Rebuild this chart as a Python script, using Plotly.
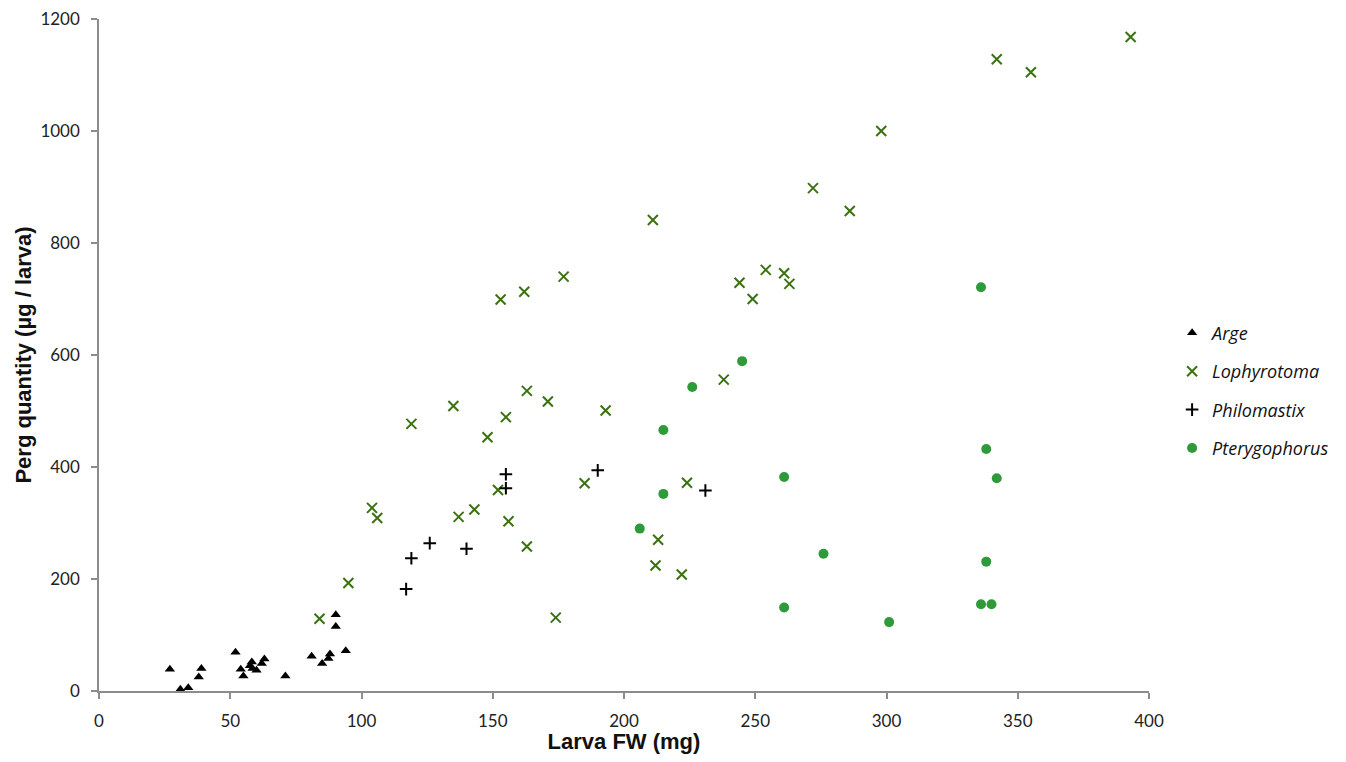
import plotly.graph_objects as go

arge_x = [27, 31, 34, 38, 39, 52, 54, 55, 57.5, 58.2, 58.5, 60, 62, 63, 71, 81, 85, 87.4, 88, 90.2, 90.2, 94]
arge_y = [39, 3, 6, 25, 40, 69, 39, 27, 45, 52, 40, 37, 49, 57, 27, 62, 49, 58, 66, 136, 115, 72]

loph_x = [84, 95, 104, 106, 119, 135, 137, 143, 148, 152, 153, 155, 156, 162, 163, 163, 171, 174, 177,
          185, 193, 211, 213, 212, 222, 224, 238, 244, 249, 254, 261, 263, 272, 286, 298, 342, 355, 393]
loph_y = [129, 193, 327, 309, 477, 509, 311, 324, 453, 359, 699, 489, 303, 713, 536, 258, 517, 131, 740,
          371, 501, 841, 270, 224, 208, 372, 556, 729, 700, 752, 746, 727, 898, 857, 1000, 1128, 1105, 1168]

phil_x = [117, 119, 126, 140, 155, 155, 190, 231]
phil_y = [182, 237, 264, 254, 387, 362, 394, 358]

pter_x = [245, 226, 215, 215, 206, 261, 261, 276, 301, 338, 342, 338, 336, 340, 336]
pter_y = [589, 543, 466, 352, 290, 382, 149, 245, 123, 432, 380, 231, 155, 155, 721]

fig = go.Figure()
fig.add_trace(go.Scatter(x=arge_x, y=arge_y, mode="markers", name="<i>Arge</i>", legendgroup="a",
                         marker=dict(symbol="triangle-up", size=9, color="black")))
fig.add_trace(go.Scatter(x=loph_x, y=loph_y, mode="markers", name="<i>Lophyrotoma</i>", legendgroup="b",
                         marker=dict(symbol="x-thin-open", size=10, color="#3a7210",
                                     line=dict(width=2, color="#3a7210"))))
fig.add_trace(go.Scatter(x=phil_x, y=phil_y, mode="markers", name="<i>Philomastix</i>", legendgroup="c",
                         marker=dict(symbol="cross-thin-open", size=9, color="black",
                                     line=dict(width=2, color="black"))))
fig.add_trace(go.Scatter(x=pter_x, y=pter_y, mode="markers", name="<i>Pterygophorus</i>", legendgroup="d",
                         marker=dict(symbol="circle", size=10, color="#2e9a3a")))

axis_common = dict(showgrid=False, zeroline=False, showline=True, linecolor="#8c8c8c", linewidth=1.5,
                   ticks="outside", tickcolor="#8c8c8c", ticklen=6, tickwidth=1.5, automargin=False,
                   ticklabelstandoff=8, ticklabeloverflow="allow",
                   tickfont=dict(family="Lato, Open Sans, sans-serif", size=17, color="#222"))

fig.update_xaxes(range=[0, 400], dtick=50, **axis_common,
                 title=dict(text="<b>Larva FW (mg)</b>", font=dict(family="Liberation Sans, Arial", size=22, color="#111"),
                            standoff=13))
fig.update_yaxes(range=[0, 1200], dtick=200, **axis_common,
                 title=dict(text="<b>Perg quantity (µg / larva)</b>", font=dict(family="Liberation Sans, Arial", size=22, color="#111"),
                            standoff=3))

fig.update_layout(
    width=1338, height=746,
    margin=dict(l=91, r=197, t=11, b=63),
    plot_bgcolor="white", paper_bgcolor="white",
    legend=dict(x=1.022, y=0.447, xanchor="left", yanchor="middle",
                font=dict(family="Open Sans, sans-serif", size=18, color="#111"),
                tracegroupgap=12),
)

fig.write_html("out.html")
